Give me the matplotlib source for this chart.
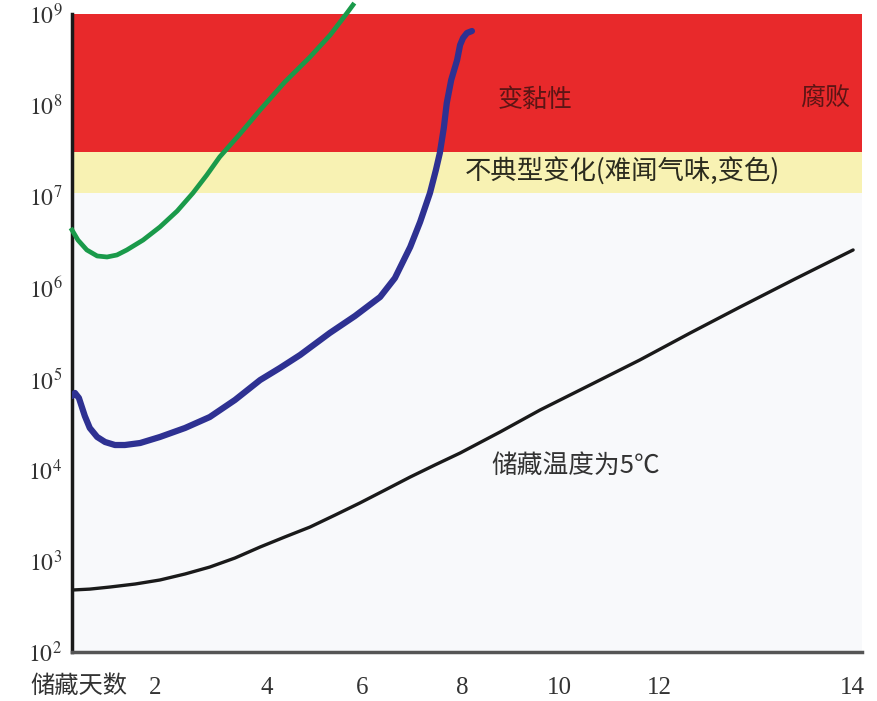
import matplotlib
matplotlib.use("Agg")
import matplotlib.pyplot as plt
import numpy as np

plt.rcParams['font.family'] = ['Noto Sans CJK SC', 'DejaVu Sans']
plt.rcParams['mathtext.fontset'] = 'stix'

# storage days (axis units) and log10 of counts
black_days = [0, 0.36, 0.77, 1.28, 1.78, 2.29, 2.79, 3.30, 3.81, 4.31, 4.82, 5.33, 5.83,
              6.34, 6.85, 7.35, 7.86, 8.67, 9.48, 10.49, 11.50, 12.52, 13.53, 14.64, 15.82]
black_exp = [2.680, 2.690, 2.713, 2.746, 2.790, 2.856, 2.932, 3.031, 3.152, 3.262, 3.371, 3.503, 3.635,
             3.777, 3.920, 4.052, 4.183, 4.414, 4.655, 4.929, 5.204, 5.500, 5.785, 6.092, 6.411]

blue_days = [0, 0.06, 0.14, 0.26, 0.36, 0.51, 0.67, 0.87, 1.07, 1.38, 1.78, 2.29, 2.79, 3.30,
             3.81, 4.21, 4.62, 5.22, 5.73, 6.24, 6.54, 6.85, 7.05, 7.25, 7.37, 7.45, 7.53,
             7.59, 7.68, 7.80, 7.86, 7.92, 8.00, 8.10]
blue_exp = [4.809, 4.842, 4.787, 4.589, 4.458, 4.359, 4.304, 4.271, 4.271, 4.293, 4.359, 4.458,
            4.578, 4.765, 4.984, 5.116, 5.259, 5.500, 5.686, 5.895, 6.103, 6.444, 6.718, 7.036,
            7.288, 7.475, 7.749, 8.023, 8.276, 8.495, 8.660, 8.737, 8.792, 8.813]

green_days = [0, 0.12, 0.30, 0.51, 0.71, 0.91, 1.11, 1.44, 1.78, 2.13, 2.45, 2.73, 2.99,
              3.40, 3.81, 4.31, 4.82, 5.23, 5.57, 5.69]
green_exp = [6.630, 6.520, 6.411, 6.345, 6.334, 6.356, 6.411, 6.520, 6.663, 6.838, 7.036,
             7.233, 7.431, 7.683, 7.947, 8.254, 8.528, 8.770, 9.011, 9.099]

spoil_low, spoil_high = 3.06e7, 1e9
atyp_low = 1.09e7

ytick_vals = [1e2, 1e3, 1e4, 1e5, 1e6, 1e7, 1e8, 1e9]
ytick_labels = ['$10^{%d}$' % k for k in range(2, 10)]
xtick_pos = [1.68, 3.95, 5.87, 7.9, 9.88, 11.9, 15.8]
xtick_labels = ['2', '4', '6', '8', '10', '12', '14']

fig = plt.figure(figsize=(8.77, 7.01), dpi=100)
ax = fig.add_axes([72/877, 1-652/701, 790/877, 638/701])
ax.set_facecolor('#f8f9fb')
ax.set_yscale('log')
ax.set_xlim(0, 16)
ax.set_ylim(1e2, 1e9)

ax.axhspan(spoil_low, spoil_high, color='#e8292b', lw=0, zorder=1)
ax.axhspan(atyp_low, spoil_low, color='#f8f2b3', lw=0, zorder=1)

ax.plot(black_days, 10**np.array(black_exp), color='#1a1a1a', lw=2.4, zorder=3,
        solid_capstyle='round', solid_joinstyle='round')
ax.plot(blue_days, 10**np.array(blue_exp), color='#2e3192', lw=4.5, zorder=3,
        solid_capstyle='round', solid_joinstyle='round')
ax.plot(green_days, 10**np.array(green_exp), color='#1a9a4a', lw=3.4, zorder=3,
        clip_on=False, solid_joinstyle='round')

ax.text(9.38, 1.14e8, '变黏性', fontsize=18, color='#5c1515', ha='center', va='center', zorder=4)
ax.text(15.26, 1.22e8, '腐败', fontsize=18, color='#5c1515', ha='center', va='center', zorder=4)
ax.text(7.95, 1.85e7, '不典型变化(难闻气味,变色)', fontsize=19, color='#2b2b1e',
        ha='left', va='center', zorder=4)
ax.text(8.5, 1.1e4, '储藏温度为5℃', fontsize=18.5, color='#333333',
        ha='left', va='center', zorder=4)

ax.set_yticks(ytick_vals)
ax.set_yticklabels(ytick_labels)
ax.minorticks_off()
ax.set_xticks(xtick_pos)
ax.set_xticklabels(xtick_labels, family='Liberation Serif')
ax.tick_params(axis='y', length=0, pad=7, labelsize=17, labelcolor='#333333')
ax.tick_params(axis='x', length=0, pad=18, labelsize=18, labelcolor='#333333')

for s in ['top', 'right']:
    ax.spines[s].set_visible(False)
ax.spines['left'].set_linewidth(2.5)
ax.spines['left'].set_color('#1a1a1a')
ax.spines['bottom'].set_linewidth(2.5)
ax.spines['bottom'].set_color('#555555')

fig.text(30/877, 1-686/701, '储藏天数', fontsize=17.5, color='#333333', va='center', ha='left')

fig.savefig('out.png', dpi=100)
